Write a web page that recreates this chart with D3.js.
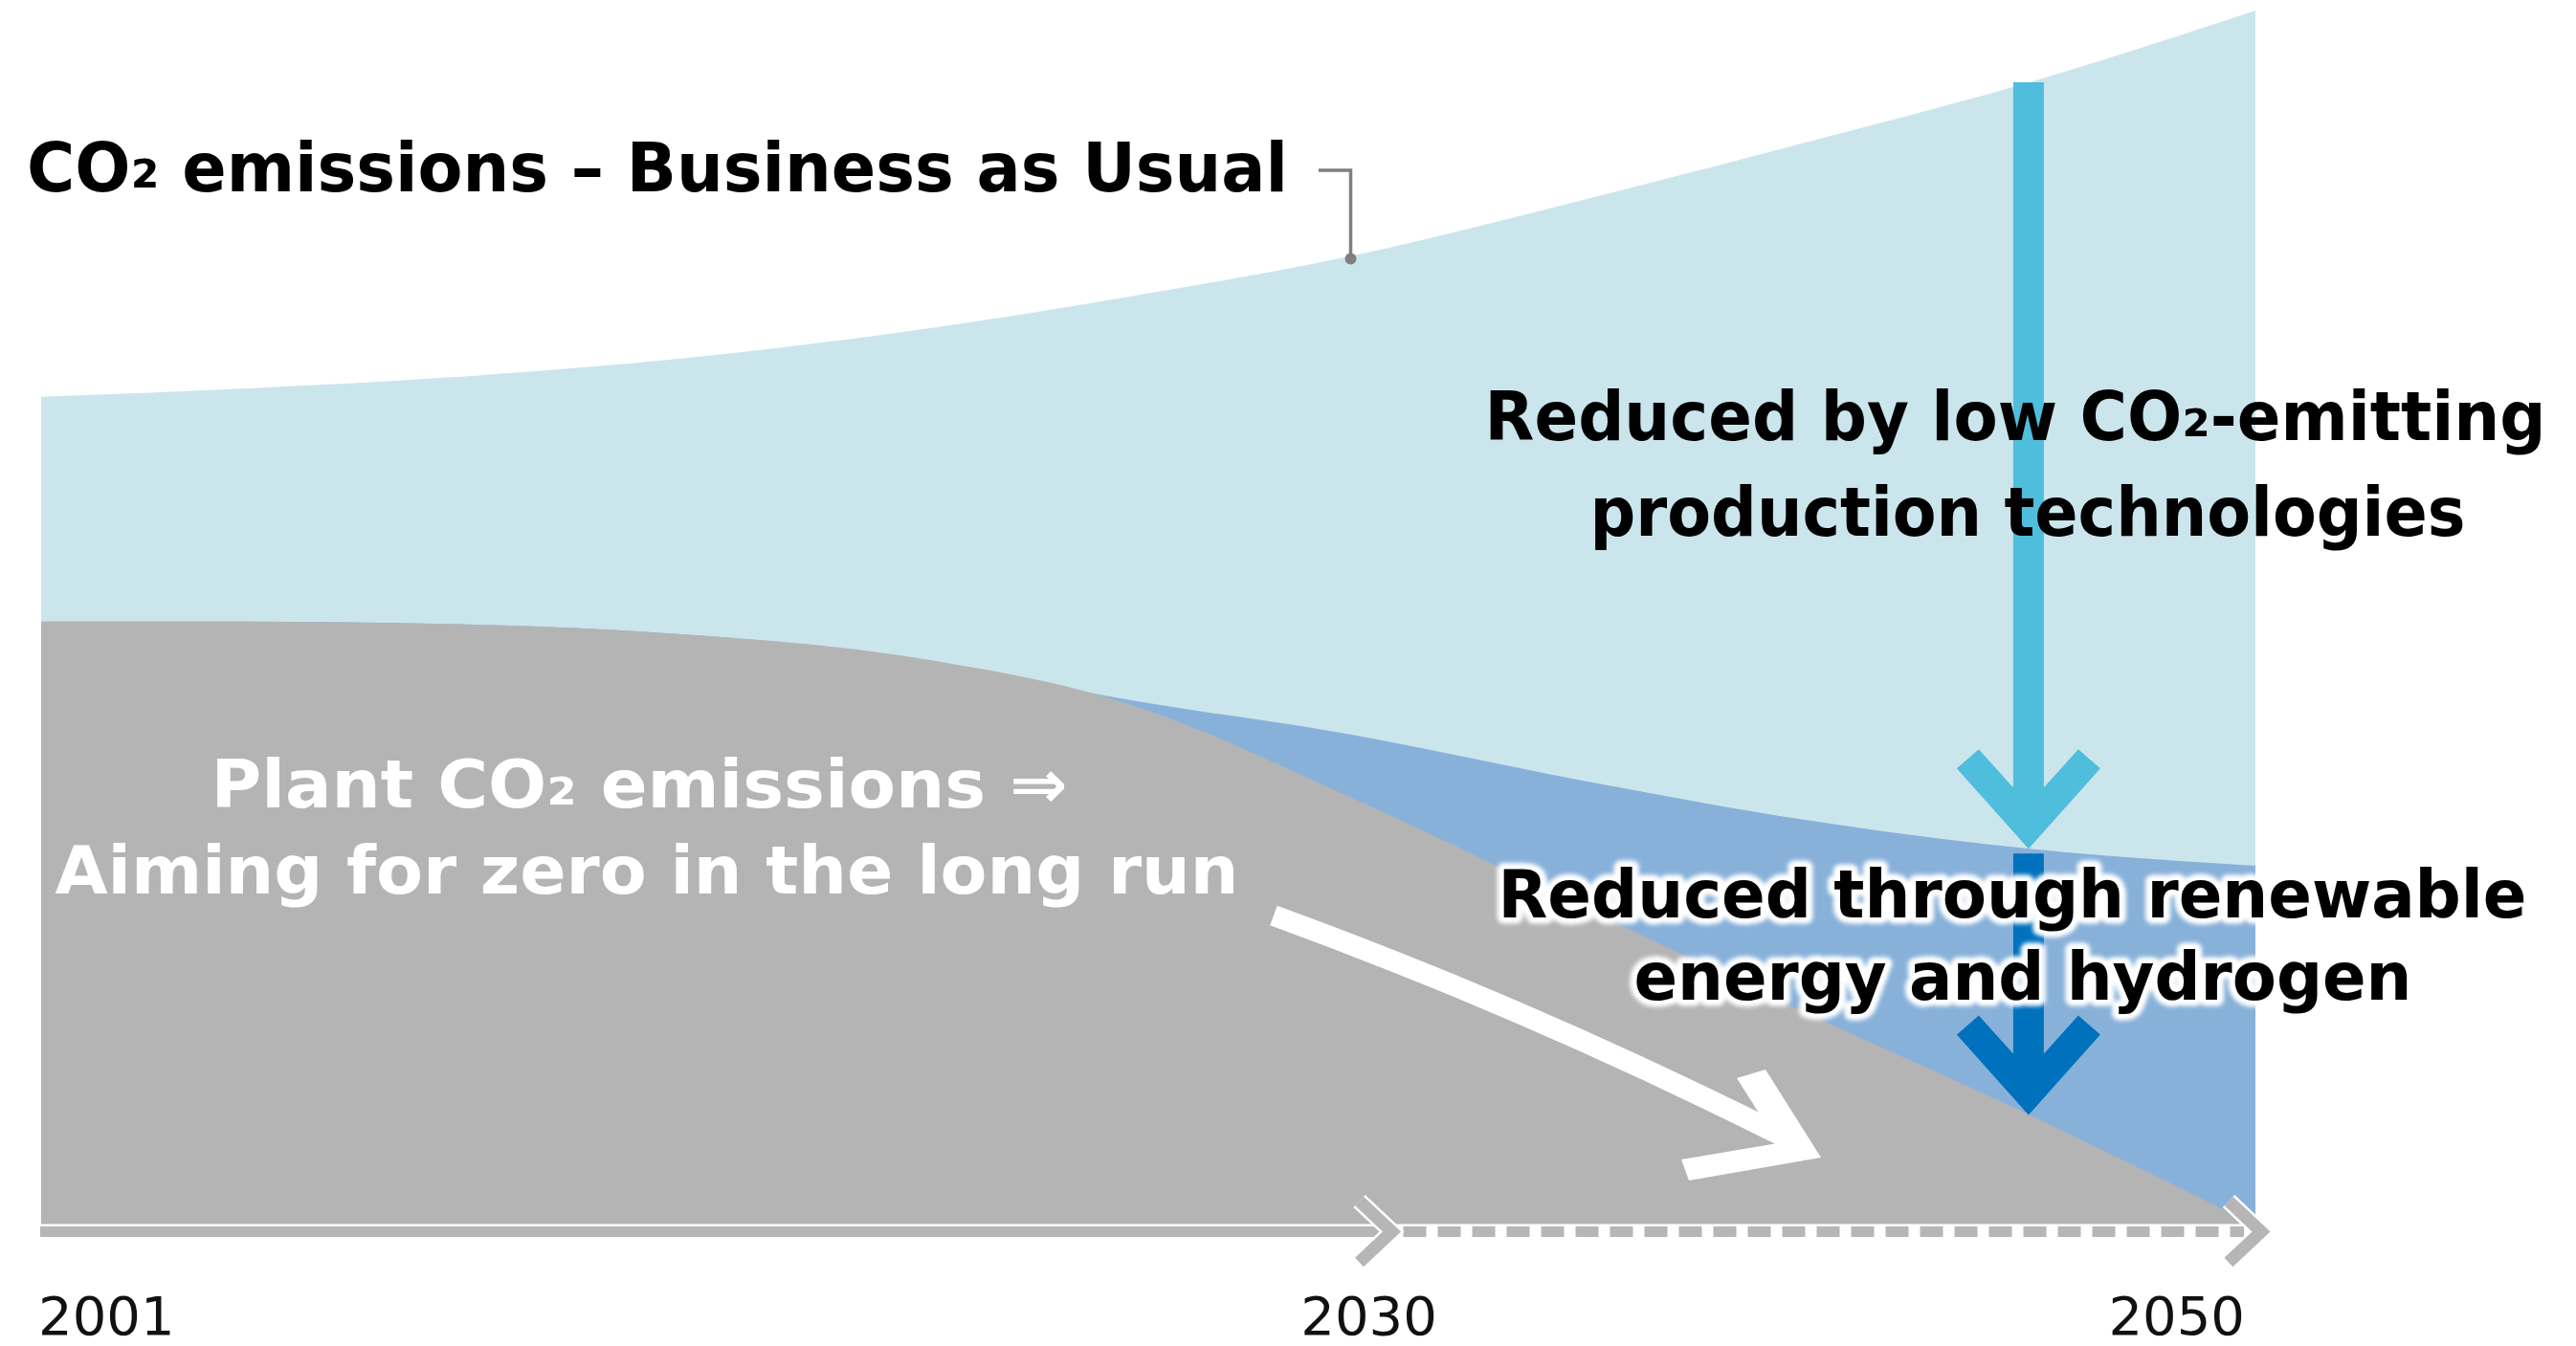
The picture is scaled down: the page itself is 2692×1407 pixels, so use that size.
<!DOCTYPE html>
<html>
<head>
<meta charset="utf-8">
<script src="https://cdn.jsdelivr.net/npm/d3@7/dist/d3.min.js"></script>
<style>
  html, body { margin: 0; padding: 0; background: #ffffff; }
  svg { display: block; }
</style>
</head>
<body>
<svg id="chart" width="2692" height="1407"></svg>
<script>
// ---------------- DATA (index units) ----------------
const years = [2001, 2005, 2010, 2015, 2020, 2025, 2030, 2035, 2040, 2045, 2050];
// CO2 emissions – Business as Usual (top of light-blue area)
const bauEmissions = [68.2, 68.8, 69.8, 71.3, 73.5, 76.4, 79.8, 84.3, 89.1, 94.1, 100];
// Level after reduction by low CO2-emitting production technologies (top of mid-blue area)
const afterLowCO2Tech = [49.7, 49.7, 49.5, 48.7, 46.9, 43.3, 40.4, 36.7, 33.4, 31.0, 29.6];
// Plant CO2 emissions, after renewable energy and hydrogen (top of gray area)
const plantEmissions = [49.7, 49.7, 49.5, 48.7, 46.9, 43.0, 35.2, 26.4, 17.6, 9.1, 0];
const tickYears = [2001, 2030, 2050];
const tickLabels = ["2001", "2030", "2050"];
const arrowYear = 2045;
const leaderYear = 2030;

// ---------------- LAYOUT ----------------
const svg = d3.select("#chart");
const x = d3.scaleLinear().domain([2001, 2050]).range([43, 2357]);
const y = d3.scaleLinear().domain([0, 100]).range([1281, 11]);

const C = {
  bau: "#cbe5ec",
  tech: "#88b1da",
  plant: "#b4b4b4",
  axis: "#b6b6b6",
  lightArrow: "#4fbddc",
  darkArrow: "#0071bd",
  leader: "#7f7f7f"
};

const rows = years.map((yr, i) => ({ yr, bau: bauEmissions[i], tech: afterLowCO2Tech[i], plant: plantEmissions[i] }));

const area = key => d3.area()
  .x(d => x(d.yr)).y0(y(0)).y1(d => y(d[key]))
  .curve(d3.curveMonotoneX);

svg.append("path").datum(rows).attr("d", area("bau")).attr("fill", C.bau);
svg.append("path").datum(rows).attr("d", area("tech")).attr("fill", C.tech);
svg.append("path").datum(rows).attr("d", area("plant")).attr("fill", C.plant);

// ---------------- AXIS (timeline arrow) ----------------
const ay = y(0) + 6.5;
const ax = svg.append("g");
const x0 = x(2001) - 1, tip1 = x(2030) + 52, tip2 = x(2050) + 16;
ax.append("path").attr("d", `M${x0},${ay}H${tip2 - 25}`).attr("stroke", "#fff").attr("stroke-width", 16).attr("fill", "none");
ax.append("path").attr("d", `M${x0},${ay}H${tip1 - 8}`).attr("stroke", C.axis).attr("stroke-width", 11).attr("fill", "none");
ax.append("path").attr("d", `M${tip1 + 2},${ay}H${tip2 - 28}`).attr("stroke", C.axis).attr("stroke-width", 11)
  .attr("stroke-dasharray", "24 12").attr("fill", "none");
function chevron(tip) {
  const d = `M${tip - 44},${ay - 32}L${tip - 10},${ay}L${tip - 44},${ay + 32}`;
  ax.append("path").attr("d", d).attr("stroke", "#fff").attr("stroke-width", 18).attr("fill", "none").attr("stroke-linejoin", "miter");
  ax.append("path").attr("d", d).attr("stroke", C.axis).attr("stroke-width", 13).attr("fill", "none").attr("stroke-linejoin", "miter");
}
chevron(tip1);
chevron(tip2);

// tick labels
const tickOffsets = { 2001: [-3, "start"], 2030: [18, "middle"], 2050: [-11, "end"] };
svg.append("g").selectAll("text").data(tickYears).join("text")
  .attr("x", d => x(d) + tickOffsets[d][0])
  .attr("y", 1395)
  .attr("text-anchor", d => tickOffsets[d][1])
  .attr("font-family", "DejaVu Sans, Verdana, sans-serif")
  .attr("font-size", 56)
  .attr("fill", "#111")
  .text((d, i) => tickLabels[i]);

// ---------------- VERTICAL REDUCTION ARROWS ----------------
const iA = years.indexOf(arrowYear);
const cx = x(arrowYear) - 1;
function downArrow(topY, tipY, color) {
  const hw = 16;
  const p = [
    [cx - hw, topY], [cx + hw, topY],
    [cx + hw, tipY - 64], [cx + 52, tipY - 104], [cx + 75, tipY - 84],
    [cx, tipY],
    [cx - 75, tipY - 84], [cx - 52, tipY - 104], [cx - hw, tipY - 64]
  ];
  svg.append("path").attr("d", "M" + p.map(q => q.join(",")).join("L") + "Z").attr("fill", color);
}
downArrow(y(bauEmissions[iA]), y(afterLowCO2Tech[iA]), C.lightArrow);
downArrow(y(afterLowCO2Tech[iA]) + 5, y(plantEmissions[iA]), C.darkArrow);

// ---------------- WHITE CURVED ARROW ----------------
svg.append("path")
  .attr("d", "M1331,957 Q1600,1055 1868,1190")
  .attr("stroke", "#fff").attr("stroke-width", 22).attr("fill", "none");
svg.append("path")
  .attr("d", "M1815,1127L1845,1118L1903,1210L1765,1234L1757,1212L1858,1195Z")
  .attr("fill", "#fff");

// ---------------- LEADER LINE ----------------
const iL = years.indexOf(leaderYear);
const lx = x(leaderYear) - 1, ly = y(bauEmissions[iL]) + 3;
svg.append("path").attr("d", `M1378,178H${lx}V${ly}`).attr("stroke", C.leader).attr("stroke-width", 3.5).attr("fill", "none");
svg.append("circle").attr("cx", lx).attr("cy", ly).attr("r", 6).attr("fill", C.leader);

// ---------------- TEXT ----------------
svg.append("defs").append("filter").attr("id", "soft")
  .attr("x", "-5%").attr("y", "-20%").attr("width", "110%").attr("height", "140%")
  .append("feGaussianBlur").attr("stdDeviation", 2);

// parts: array of strings; the subscript "₂" is nudged up to sit on the baseline
function label(parts, xPos, yPos, anchor, size, width, fill, halo) {
  const make = () => {
    const t = svg.append("text")
      .attr("x", xPos).attr("y", yPos)
      .attr("text-anchor", anchor)
      .attr("font-family", "DejaVu Sans Condensed, DejaVu Sans, sans-serif")
      .attr("font-weight", "bold")
      .attr("font-size", size)
      .attr("textLength", width)
      .attr("lengthAdjust", "spacingAndGlyphs");
    let raised = false;
    parts.forEach(p => {
      const ts = t.append("tspan").text(p);
      if (p === "₂") { ts.attr("dy", "-0.05em"); raised = true; }
      else if (raised) { ts.attr("dy", "0.05em"); raised = false; }
    });
    return t;
  };
  if (halo) {
    make().attr("fill", "#fff").attr("stroke", "#fff").attr("stroke-width", 13)
      .attr("stroke-linejoin", "round").attr("filter", "url(#soft)");
  }
  make().attr("fill", fill);
}

label(["CO", "₂", " emissions – Business as Usual"], 28, 200, "start", 72, 1318, "#000", false);
label(["Reduced by low CO", "₂", "-emitting"], 2106, 460, "middle", 71, 1109, "#000", false);
label(["production technologies"], 2119, 560, "middle", 71, 915, "#000", false);
label(["Reduced through renewable"], 2103, 959, "middle", 69, 1075, "#000", true);
label(["energy and hydrogen"], 2114, 1045, "middle", 69, 813, "#000", true);
label(["Plant CO", "₂", " emissions ⇒"], 668, 844, "middle", 70, 895, "#fff", false);
label(["Aiming for zero in the long run"], 676, 934, "middle", 70, 1237, "#fff", false);
</script>
</body>
</html>
